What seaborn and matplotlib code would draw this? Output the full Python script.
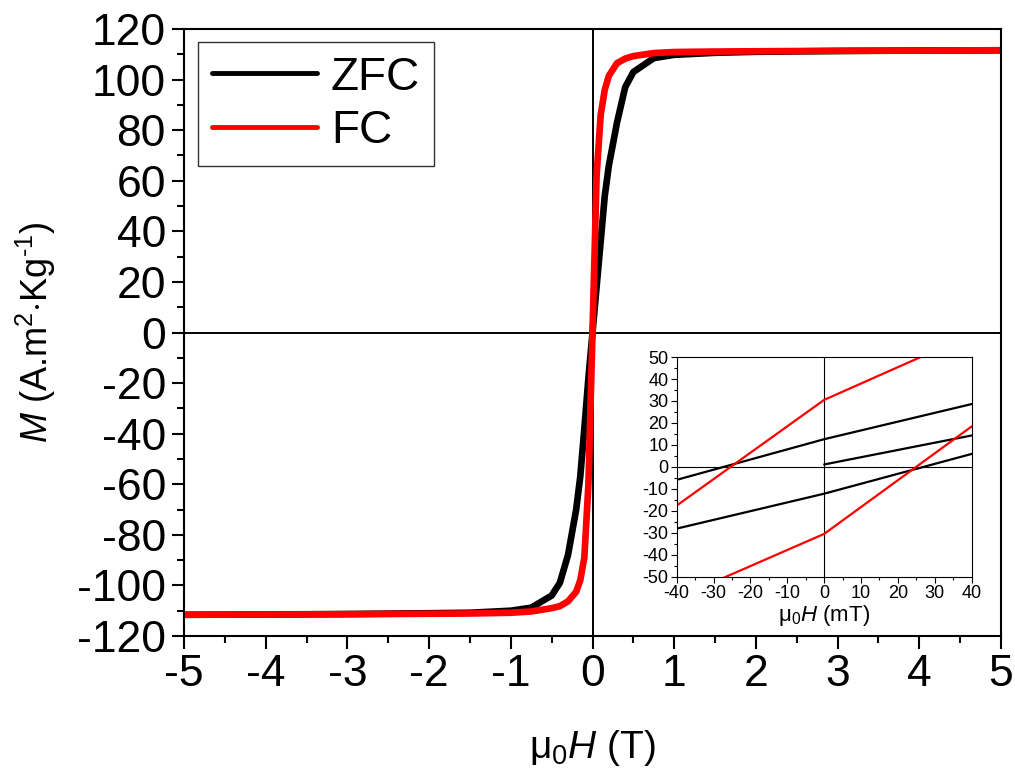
import numpy as np
import seaborn as sns
import matplotlib.pyplot as plt
from matplotlib.ticker import MultipleLocator

# main loop, field in T
h_main = [-5, -4, -3, -2, -1.5, -1, -0.75, -0.5, -0.4, -0.3, -0.2, -0.15, -0.1, -0.05,
          0, 0.05, 0.1, 0.15, 0.2, 0.3, 0.4, 0.5, 0.75, 1, 1.5, 2, 3, 4, 5]
m_zfc = [-111.6, -111.5, -111.3, -111, -110.8, -110, -108.8, -104, -99, -88, -70, -57, -38, -18,
         0, 18, 36, 54, 66, 83, 97, 103, 108.5, 109.8, 110.6, 111, 111.3, 111.5, 111.6]
m_fc = [-111.6, -111.5, -111.4, -111.2, -111.1, -110.8, -110.3, -109, -108.2, -106.3, -102.5, -98, -89, -60,
        0, 62, 86, 96, 101.5, 106.5, 108.3, 109.3, 110.5, 110.9, 111.1, 111.2, 111.4, 111.5, 111.6]

# inset, field in mT
h_in = [-40, 0, 40]
zfc_up = [-5.9, 12.6, 28.6]
zfc_down = [-28.1, -12.2, 5.9]
h_virgin = [0, 40]
zfc_virgin = [1.1, 14.3]
fc_up = [-17.6, 30.5, 60.3]
fc_down = [-59.8, -30.5, 18.4]

sns.set_style("ticks")
plt.rcParams['font.family'] = ['Liberation Sans', 'DejaVu Sans']
plt.rcParams['mathtext.fontset'] = 'custom'
plt.rcParams['mathtext.rm'] = 'Liberation Sans'
plt.rcParams['mathtext.it'] = 'Liberation Sans:italic'
plt.rcParams['axes.unicode_minus'] = False
plt.rcParams['text.color'] = 'black'
plt.rcParams['axes.labelcolor'] = 'black'
plt.rcParams['xtick.color'] = 'black'
plt.rcParams['ytick.color'] = 'black'
plt.rcParams['axes.edgecolor'] = 'black'

fig = plt.figure(figsize=(10.15, 7.76), dpi=100)
ax = fig.add_axes([0.1813, 0.1804, 0.8049, 0.7822])

ax.axhline(0, color='black', lw=1.4, zorder=1)
ax.axvline(0, color='black', lw=1.4, zorder=1)
sns.lineplot(x=h_main, y=m_zfc, sort=False, estimator=None, color='black', lw=4.8, ax=ax, label='ZFC')
sns.lineplot(x=h_main, y=m_fc, sort=False, estimator=None, color='red', lw=4.8, ax=ax, label='FC')

ax.set_xlim(-5, 5)
ax.set_ylim(-120, 120)
ax.xaxis.set_major_locator(MultipleLocator(1))
ax.xaxis.set_minor_locator(MultipleLocator(0.5))
ax.yaxis.set_major_locator(MultipleLocator(20))
ax.yaxis.set_minor_locator(MultipleLocator(10))
ax.tick_params(which='major', direction='out', length=9, width=1.5, labelsize=32, pad=4)
ax.tick_params(which='minor', direction='out', length=5, width=1.5)
for s in ax.spines.values():
    s.set_linewidth(1.5)
ax.set_xlabel(r'μ$_0$$H$ (T)', fontsize=28, labelpad=24)
ax.set_ylabel(r'$M$ (A.m$^{2}$$\cdot$Kg$^{\text{-}1}$)', fontsize=26, labelpad=14)

leg = ax.legend(loc='upper left', bbox_to_anchor=(0.017, 0.979), fontsize=33, frameon=True,
                fancybox=False, edgecolor='black', handlelength=2.3, handletextpad=0.3,
                borderpad=0.3, labelspacing=0.2, borderaxespad=0)
leg.get_frame().set_linewidth(1.0)
for line in leg.get_lines():
    line.set_linewidth(3.5)

ins = fig.add_axes([0.6667, 0.2568, 0.2906, 0.2831])
ins.axhline(0, color='black', lw=0.8, zorder=1)
ins.axvline(0, color='black', lw=0.8, zorder=1)
sns.lineplot(x=h_in, y=zfc_up, sort=False, estimator=None, color='black', lw=1.6, ax=ins)
sns.lineplot(x=h_in, y=zfc_down, sort=False, estimator=None, color='black', lw=1.6, ax=ins)
sns.lineplot(x=h_virgin, y=zfc_virgin, sort=False, estimator=None, color='black', lw=1.6, ax=ins)
sns.lineplot(x=h_in, y=fc_up, sort=False, estimator=None, color='red', lw=1.6, ax=ins)
sns.lineplot(x=h_in, y=fc_down, sort=False, estimator=None, color='red', lw=1.6, ax=ins)
ins.set_xlim(-40, 40)
ins.set_ylim(-50, 50)
ins.xaxis.set_major_locator(MultipleLocator(10))
ins.xaxis.set_minor_locator(MultipleLocator(5))
ins.yaxis.set_major_locator(MultipleLocator(10))
ins.yaxis.set_minor_locator(MultipleLocator(5))
ins.tick_params(which='major', direction='out', length=4, width=0.8, labelsize=13, pad=2)
ins.tick_params(which='minor', direction='out', length=2, width=0.8)
for s in ins.spines.values():
    s.set_linewidth(0.8)
ins.set_xlabel(r'μ$_0$$H$ (mT)', fontsize=16, labelpad=1)

fig.savefig('out.png', dpi=100)
